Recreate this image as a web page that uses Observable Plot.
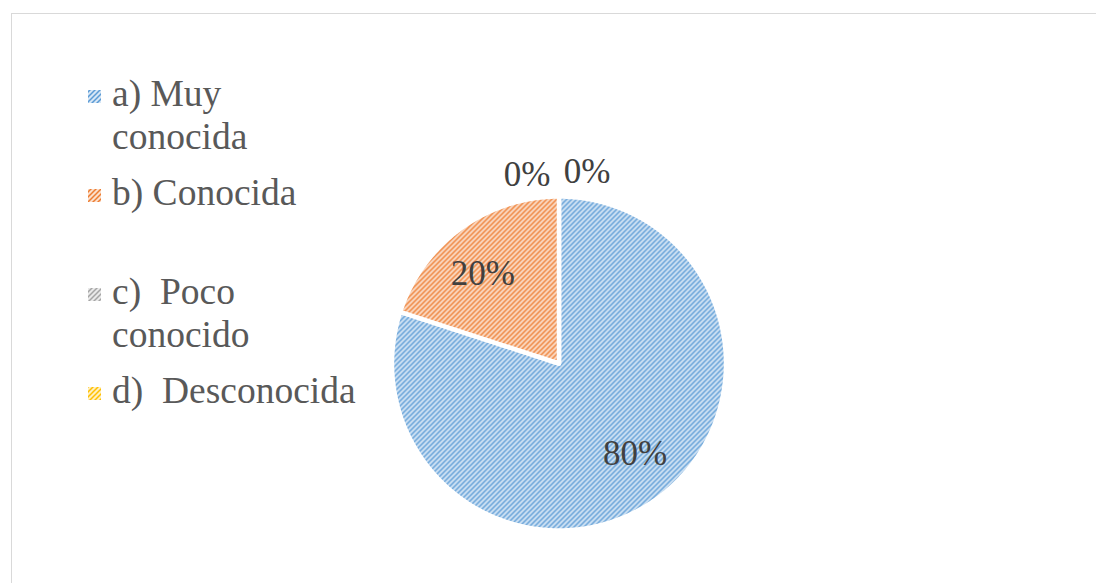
<!DOCTYPE html>
<html><head><meta charset="utf-8">
<script src="https://cdn.jsdelivr.net/npm/d3@7"></script>
<script src="https://cdn.jsdelivr.net/npm/@observablehq/plot@0.6"></script>
<style>
body{margin:0;background:#fff;}
#wrap{position:relative;width:1096px;height:583px;overflow:hidden;}
#frame{position:absolute;left:11px;top:13px;width:1300px;height:800px;border:1.5px solid #D9D9D9;box-sizing:border-box;}
#chart,#legend{position:absolute;left:0;top:0;}
svg text{font-family:"Liberation Serif",serif !important;}
</style></head>
<body><div id="wrap"><div id="frame"></div><div id="chart"></div><svg id="legend" width="1096" height="583"></svg></div>
<script>
const categories = ["a) Muy conocida", "b) Conocida", "c)  Poco conocido", "d)  Desconocida"];
const legendLines = [["a) Muy", "conocida"], ["b) Conocida"], ["c)  Poco", "conocido"], ["d)  Desconocida"]];
const values = [80, 20, 0, 0];
const colors = ["#5B9BD5", "#ED7D31", "#A5A5A5", "#FFC000"];
const percentLabels = ["80%", "20%", "0%", "0%"];

const total = d3.sum(values);
let acc = 0;
const slices = values.map((v, i) => {
  const a0 = acc / total * 2 * Math.PI; acc += v;
  const a1 = acc / total * 2 * Math.PI;
  return {i, v, a0, a1, mid: (a0 + a1) / 2};
});

const rows = [];
for (const s of slices) {
  if (s.v <= 0) continue;
  rows.push({k: s.i, x: 0, y: 0});
  const n = Math.max(2, Math.ceil((s.a1 - s.a0) / (Math.PI / 360)));
  for (let j = 0; j <= n; j++) {
    const a = s.a0 + (s.a1 - s.a0) * j / n;
    rows.push({k: s.i, x: Math.sin(a), y: Math.cos(a)});
  }
}

const inner = slices.filter(s => s.v > 0).map(s => ({x: 0.775 * Math.sin(s.mid), y: 0.665 * Math.cos(s.mid), t: percentLabels[s.i]}));
const zero = slices.filter(s => s.v <= 0).map(s => ({x: 1.13 * Math.sin(s.mid), y: 1.13 * Math.cos(s.mid), t: percentLabels[s.i]}));

const font = "Liberation Serif";
const chart = Plot.plot({
  width: 1096, height: 583, margin: 0,
  style: {background: "transparent"},
  x: {domain: [-1, 1], range: [558.5 - 167, 558.5 + 167], axis: null},
  y: {domain: [-1, 1], range: [363 + 167, 363 - 167], axis: null},
  color: {type: "identity"},
  marks: [
    Plot.line(rows, {x: "x", y: "y", z: "k", fill: d => `url(#hatch${d.k})`, stroke: "white", strokeWidth: 4.5, strokeLinejoin: "round", curve: "linear-closed"}),
    Plot.text(inner, {x: "x", y: "y", text: "t", fontSize: 35, fontFamily: font, fill: "#404040"}),
    Plot.text(zero.slice(0, 1), {x: "x", y: "y", text: "t", dx: -32, fontSize: 35, fontFamily: font, fill: "#404040"}),
    Plot.text(zero.slice(1, 2), {x: "x", y: "y", text: "t", dx: 28, dy: -3, fontSize: 35, fontFamily: font, fill: "#404040"})
  ]
});
const svg = d3.select(chart);
const defs = svg.insert("defs", ":first-child");
colors.forEach((c, i) => {
  const bg = d3.interpolateRgb(c, "white")(0.75);
  const p = defs.append("pattern").attr("id", `hatch${i}`).attr("patternUnits", "userSpaceOnUse").attr("width", 5).attr("height", 5);
  p.append("rect").attr("width", 5).attr("height", 5).attr("fill", bg);
  p.append("path").attr("d", "M-1,1 L1,-1 M0,5 L5,0 M4,6 L6,4").attr("stroke", c).attr("stroke-width", 1.5);
});
document.getElementById("chart").appendChild(chart);

const leg = d3.select("#legend");
legendLines.forEach((lines, i) => {
  const base = 106 + 99 * i;
  leg.append("rect").attr("x", 88).attr("y", base - 16).attr("width", 13).attr("height", 13).attr("fill", `url(#hatch${i})`);
  const t = leg.append("text").attr("x", 112).attr("y", base).attr("font-size", 37.5).attr("font-family", font).attr("fill", "#595959").style("white-space", "pre");
  lines.forEach((l, j) => t.append("tspan").attr("x", 112).attr("y", base + 43 * j).text(l));
});
</script>
</body></html>
